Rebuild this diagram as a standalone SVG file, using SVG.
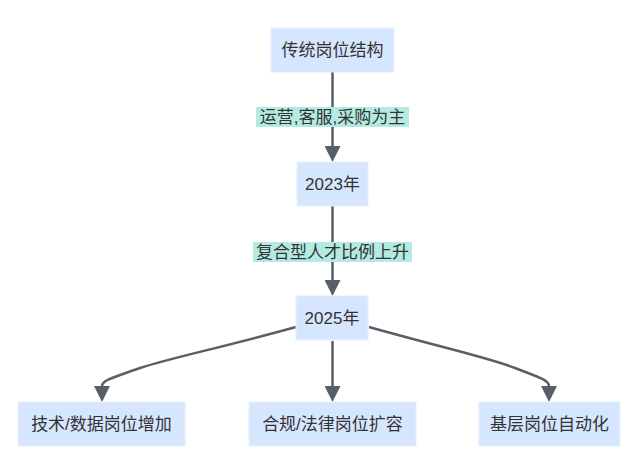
<svg xmlns="http://www.w3.org/2000/svg" width="640" height="460" viewBox="0 0 640 460">
  <defs>
    <style>
      .node rect { fill: #d6e6ff; stroke: #e4eeff; stroke-width: 1; }
      text { font-family: "Liberation Sans", "Noto Sans CJK SC", sans-serif; font-size: 17px; fill: #333333; text-anchor: middle; dominant-baseline: central; }
      .edge { fill: none; stroke: #595f69; stroke-width: 2.5; }
      .lbl rect { fill: #b3ebe3; }
    </style>
    <marker id="arrow" markerUnits="userSpaceOnUse" viewBox="0 0 16 16" refX="0" refY="8" markerWidth="16" markerHeight="16" orient="auto">
      <path d="M0,0 L16,8 L0,16 Z" fill="#595f69"/>
    </marker>
  </defs>
  <rect width="640" height="460" fill="#ffffff"/>
  <g id="connectors">
    <path class="edge" d="M332.5,72 L332.5,146" marker-end="url(#arrow)"/>
    <path class="edge" d="M332.5,206 L332.5,280" marker-end="url(#arrow)"/>
    <path class="edge" d="M296,327 C220,348 170,358 140,368 C115,377 102,380 102,386" marker-end="url(#arrow)"/>
    <path class="edge" d="M332.5,341 L332.5,386" marker-end="url(#arrow)"/>
    <path class="edge" d="M369,327 C440,347 490,358 515,368 C538,377 549,380 549,386" marker-end="url(#arrow)"/>
    <g class="lbl" id="label1">
      <rect x="256" y="107" width="153" height="20"/>
      <text x="332.5" y="117">运营,客服,采购为主</text>
    </g>
    <g class="lbl" id="label2">
      <rect x="253" y="242" width="159" height="20"/>
      <text x="332.5" y="252">复合型人才比例上升</text>
    </g>
  </g>
  <g id="n_top" class="node">
    <rect x="271" y="28" width="123" height="44"/>
    <text x="332.5" y="50">传统岗位结构</text>
  </g>
  <g id="n_2023" class="node">
    <rect x="297" y="162" width="71" height="44"/>
    <text x="332.5" y="184">2023年</text>
  </g>
  <g id="n_2025" class="node">
    <rect x="296" y="296" width="72" height="44"/>
    <text x="332" y="318">2025年</text>
  </g>
  <g id="n_tech" class="node">
    <rect x="18" y="402" width="167" height="44"/>
    <text x="101.5" y="424">技术/数据岗位增加</text>
  </g>
  <g id="n_legal" class="node">
    <rect x="249" y="402" width="167" height="44"/>
    <text x="332.5" y="424">合规/法律岗位扩容</text>
  </g>
  <g id="n_auto" class="node">
    <rect x="479" y="402" width="141" height="44"/>
    <text x="549.5" y="424">基层岗位自动化</text>
  </g>
</svg>
